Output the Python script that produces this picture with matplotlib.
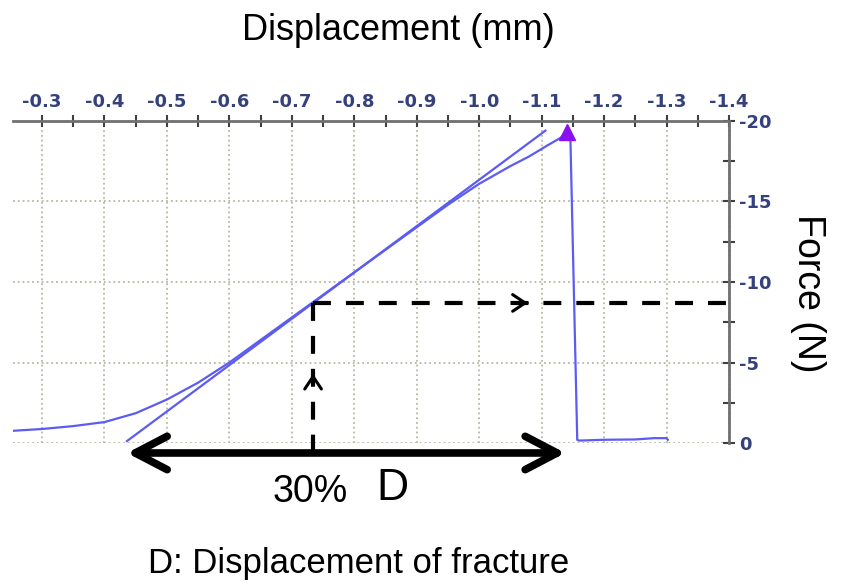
import matplotlib
matplotlib.use("Agg")
import matplotlib.pyplot as plt
from matplotlib.ticker import MultipleLocator, FormatStrFormatter

# ---- data ----
disp = [-0.25, -0.30, -0.35, -0.40, -0.45, -0.50, -0.55, -0.60, -0.65, -0.70,
        -0.75, -0.80, -0.85, -0.90, -0.95, -1.00, -1.05, -1.08, -1.11, -1.13, -1.141,
        -1.146, -1.157, -1.160, -1.20, -1.25, -1.28, -1.30, -1.302]
force = [-0.75, -0.87, -1.05, -1.30, -1.85, -2.70, -3.75, -5.0, -6.4, -7.8,
         -9.2, -10.6, -12.0, -13.4, -14.8, -16.1, -17.2, -17.8, -18.5, -18.95, -19.3,
         -19.0, -0.2, -0.15, -0.2, -0.22, -0.3, -0.3, -0.2]
peak_disp, peak_force = -1.141, -19.3
tangent_disp = [-0.436, -1.106]
tangent_force = [-0.12, -19.4]
point30_disp, point30_force = -0.734, -8.7
fracture_disp = [-0.436, -1.138]
xticks = [-0.3, -0.4, -0.5, -0.6, -0.7, -0.8, -0.9, -1.0, -1.1, -1.2, -1.3, -1.4]
yticks = [-20, -15, -10, -5, 0]

W, H = 841, 587
fig = plt.figure(figsize=(W / 100, H / 100), dpi=100)
ax = fig.add_axes([13 / W, 1 - 443 / H, (729 - 13) / W, (443 - 121) / H])

blue = '#5c5cf2'
ax.plot(disp, force, color=blue, lw=1.6, zorder=3)
ax.plot(tangent_disp, tangent_force, color=blue, lw=1.6, zorder=3)
ax.plot([peak_disp], [peak_force], marker='^', color='#8a10f0', ms=11, zorder=4)

ax.set_xlim(-0.2535, -1.4)
ax.set_ylim(0, -20)

for s in ['left', 'bottom']:
    ax.spines[s].set_visible(False)
for s in ['top', 'right']:
    ax.spines[s].set_color('#707070')
    ax.spines[s].set_linewidth(2)

ax.xaxis.tick_top()
ax.yaxis.tick_right()
ax.set_xticks(xticks)
ax.set_yticks(yticks)
ax.xaxis.set_major_formatter(FormatStrFormatter('%.1f'))
ax.yaxis.set_major_formatter(FormatStrFormatter('%d'))
ax.xaxis.set_minor_locator(MultipleLocator(0.05))
ax.yaxis.set_minor_locator(MultipleLocator(2.5))
ax.tick_params(which='both', direction='inout', length=8, width=1.5, color='#404040')
ax.tick_params(axis='x', which='major', pad=3, labelsize=13, labelcolor='#34417a')
ax.tick_params(axis='y', which='major', pad=3, labelsize=13, labelcolor='#34417a')
for lab in ax.get_xticklabels() + ax.get_yticklabels():
    lab.set_fontweight('bold')
    lab.set_family('DejaVu Sans')

ax.grid(True, which='major', color='#b8b8a4', linestyle=':', linewidth=1.3)
ax.set_axisbelow(True)

# dashed guide lines
dash = (0, (4.3, 3.6))
ax.plot([point30_disp, -1.40], [point30_force, point30_force], color='black', lw=3,
        linestyle=dash, clip_on=False, zorder=5, dash_capstyle='butt')
ax.plot([point30_disp, point30_disp], [point30_force, 1.06], color='black', lw=3,
        linestyle=dash, clip_on=False, zorder=5, dash_capstyle='butt')

# open chevrons
ax.annotate('', xy=(-1.078, point30_force), xytext=(-1.076, point30_force),
            arrowprops=dict(arrowstyle='->,head_length=0.9,head_width=0.6', lw=2.2,
                            color='black', shrinkA=0, shrinkB=0), annotation_clip=False)
ax.annotate('', xy=(point30_disp, -4.3), xytext=(point30_disp, -4.2),
            arrowprops=dict(arrowstyle='->,head_length=0.9,head_width=0.6', lw=2.2,
                            color='black', shrinkA=0, shrinkB=0), annotation_clip=False)

# fracture double arrow
ax.annotate('', xy=(fracture_disp[0], 0.62), xytext=(fracture_disp[1], 0.62),
            arrowprops=dict(arrowstyle='<->,head_length=1.15,head_width=0.6', lw=5.5,
                            color='black', shrinkA=0, shrinkB=0, mutation_scale=20,
                            capstyle='round', joinstyle='round'),
            annotation_clip=False)

font = 'Liberation Sans'
fig.text(398 / W, 1 - 30 / H, 'Displacement (mm)', ha='center', va='center',
         fontsize=26, family=font)
fig.text(808 / W, 1 - 293 / H, 'Force (N)', ha='center', va='center',
         fontsize=27, family=font, rotation=-90)
fig.text(310 / W, 1 - 492 / H, '30%', ha='center', va='center', fontsize=27, family=font)
fig.text(392 / W, 1 - 489 / H, 'D', ha='center', va='center', fontsize=32, family=font)
fig.text(359 / W, 1 - 563 / H, 'D: Displacement of fracture', ha='center', va='center',
         fontsize=25, family=font)

fig.savefig('out.png', dpi=100)
